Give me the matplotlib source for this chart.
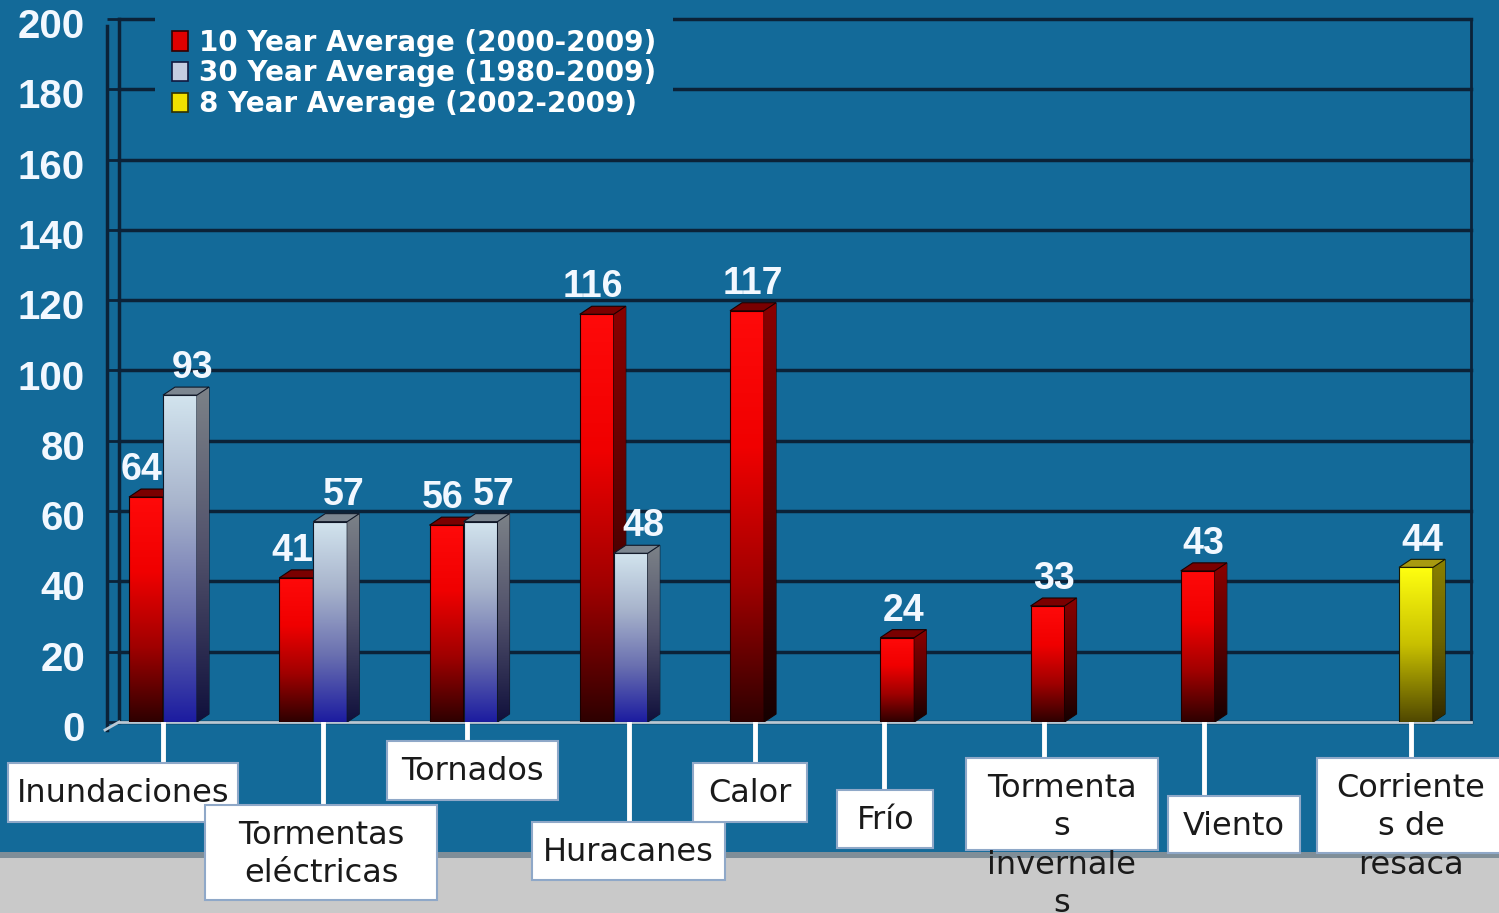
import numpy as np
import matplotlib.pyplot as plt
from matplotlib.colors import LinearSegmentedColormap
from matplotlib.patches import Polygon, Rectangle, Patch
from matplotlib.lines import Line2D
from matplotlib.transforms import ScaledTranslation, blended_transform_factory

# data
categories = ['Inundaciones', 'Tormentas\neléctricas', 'Tornados', 'Huracanes', 'Calor',
              'Frío', 'Tormenta\ns\ninvernale\ns', 'Viento', 'Corriente\ns de\nresaca']
series_names = ['10 Year Average (2000-2009)', '30 Year Average (1980-2009)',
                '8 Year Average (2002-2009)']
avg_10yr = [64, 41, 56, 116, 117, 24, 33, 43, np.nan]
avg_30yr = [93, 57, 57, 48, np.nan, np.nan, np.nan, np.nan, np.nan]
avg_8yr = [np.nan, np.nan, np.nan, np.nan, np.nan, np.nan, np.nan, np.nan, 44]
yticks = list(range(0, 201, 20))

# label boxes (pixels): leader line offset from category centre, box left rel. to line, top, width, height
line_dx = [-17, -7, -14, -2, -26, -47, -38, -28, 29]
boxes = [(-155, 763, 230, 59), (-118, 805, 232, 95), (-80, 741, 171, 59),
         (-97, 822, 193, 58), (-62, 763, 114, 59), (-47, 790, 96, 58),
         (-78, 758, 192, 92), (-36, 796, 132, 57), (-94, 758, 188, 95)]

W, H = 1499, 913
BG = '#136a99'
GRID = '#0b2238'


def fx(px):
    return px / W


def fy(py):
    return 1 - py / H


fig = plt.figure(figsize=(W / 100, H / 100), dpi=100, facecolor=BG)
ax = fig.add_axes([fx(119), fy(722), (1471 - 119) / W, (722 - 19) / H])
ax.set_facecolor(BG)

styles = [
    dict(front=LinearSegmentedColormap.from_list('rf', ['#2e0000', '#a00000', '#f00000', '#ff0a0a']),
         side=LinearSegmentedColormap.from_list('rs', ['#160000', '#5a0000', '#8a0000']),
         top='#7a0000', edge='#1a0000', k=-1, z=3),
    dict(front=LinearSegmentedColormap.from_list('gf', ['#1c1ca0', '#6a70b0', '#a8b4cc', '#d2e4ee']),
         side=LinearSegmentedColormap.from_list('gs', ['#10103c', '#50506a', '#7c8288']),
         top='#7c8690', edge='#101828', k=0, z=4),
    dict(front=LinearSegmentedColormap.from_list('yf', ['#504800', '#c8c000', '#ffff10']),
         side=LinearSegmentedColormap.from_list('ys', ['#302800', '#6a6200', '#8a8000']),
         top='#a89a10', edge='#1a1800', k=1, z=5),
]
legend_colors = [('#e00000', '#300000'), ('#c4cce0', '#101840'), ('#f0e000', '#303000')]

PXX = 150.25  # pixels per category
bw = 34 / PXX
ddx = 12 / PXX
ddy = 8 / 3.515
grad = np.linspace(0, 1, 256)[:, None]
xs = np.arange(len(categories))


def bar3d(x0, h, st, lab_dx):
    x1 = x0 + bw
    z = st['z']
    ax.imshow(grad, extent=(x0, x1, 0, h), origin='lower', cmap=st['front'],
              aspect='auto', zorder=z, interpolation='bilinear')
    ax.add_patch(Rectangle((x0, 0), bw, h, facecolor='none', edgecolor=st['edge'], lw=0.8, zorder=z))
    side = Polygon([(x1, 0), (x1 + ddx, ddy), (x1 + ddx, h + ddy), (x1, h)], closed=True,
                   facecolor='none', edgecolor=st['edge'], lw=0.8, zorder=z)
    ax.add_patch(side)
    im = ax.imshow(grad, extent=(x1, x1 + ddx, 0, h + ddy), origin='lower', cmap=st['side'],
                   aspect='auto', zorder=z, interpolation='bilinear')
    im.set_clip_path(side)
    ax.add_patch(Polygon([(x0, h), (x0 + ddx, h + ddy), (x1 + ddx, h + ddy), (x1, h)], closed=True,
                         facecolor=st['top'], edgecolor=st['edge'], lw=0.8, zorder=z))
    ax.text(x0 + bw / 2 + lab_dx / PXX, h + ddy + 2.5, f'{h:g}', ha='center', va='baseline',
            fontsize=27, fontweight='bold', family='Liberation Sans', color='#f2f8ff', zorder=10)


for j, (vals, st) in enumerate(zip([avg_10yr, avg_30yr, avg_8yr], styles)):
    for i, v in enumerate(vals):
        if np.isnan(v):
            continue
        paired = j == 0 and not np.isnan(avg_30yr[i])
        lab_dx = -4 if paired else (13 if j == 1 else 6)
        bar3d(xs[i] + st['k'] * bw - bw / 2, v, st, lab_dx)

ax.set_xlim(-0.406, 8.592)
ax.set_ylim(0, 200)
ax.set_xticks([])
ax.set_yticks(yticks)
ax.set_yticklabels([])
ax.yaxis.grid(True, color=GRID, lw=2.5)
ax.set_axisbelow(True)
for gl in ax.get_ygridlines():
    gl.set_clip_on(False)
ax.tick_params(axis='y', length=9, width=2, color=GRID, direction='out')
ax.spines['top'].set_visible(False)
ax.spines['left'].set_color(GRID)
ax.spines['left'].set_linewidth(2.5)
ax.spines['right'].set_color(GRID)
ax.spines['right'].set_linewidth(2)
ax.spines['bottom'].set_color('#b8c8d4')
ax.spines['bottom'].set_linewidth(2)

# y labels, a little below the back-wall gridlines
lab_tr = blended_transform_factory(ax.transAxes, ax.transData) + \
    ScaledTranslation(0, -8 / 100, fig.dpi_scale_trans)
for v in yticks:
    ax.text((85 - 119) / 1352, v, str(v), transform=lab_tr, ha='right', va='center',
            fontsize=29, fontweight='bold', family='Liberation Sans', color='#f2f8ff', clip_on=False)

# front edge of the wall and floor
fig.add_artist(Line2D([fx(107), fx(107)], [fy(26), fy(730)], color=GRID, lw=2.5))
fig.add_artist(Line2D([fx(105), fx(119)], [fy(730), fy(722)], color='#b8c8d4', lw=2))

# grey band at the bottom
fig.add_artist(Rectangle((0, 0), 1, fy(852), transform=fig.transFigure,
                         facecolor='#7f8e98', edgecolor='none', zorder=0.5))
fig.add_artist(Rectangle((0, 0), 1, fy(858), transform=fig.transFigure,
                         facecolor='#c9c9c9', edgecolor='none', zorder=0.6))

# category labels with leader lines
for i, (name, ldx, (bl, top, bwid, bh)) in enumerate(zip(categories, line_dx, boxes)):
    cx = ax.transData.transform((xs[i], 0))[0]
    lx = cx + ldx
    fig.add_artist(Line2D([fx(lx), fx(lx)], [fy(724), fy(top)], color='white', lw=3.5, zorder=1))
    left = lx + bl
    fig.add_artist(Rectangle((fx(left), fy(top + bh)), bwid / W, bh / H, transform=fig.transFigure,
                             facecolor='white', edgecolor='#8fa8c8', lw=1.5, zorder=2))
    fig.text(fx(left + bwid / 2), fy(top + 15), name, ha='center', va='top', fontsize=23,
             color='#1a1a1a', linespacing=1.31, multialignment='center', zorder=3)

handles = [Patch(facecolor=f, edgecolor=e, lw=1.2) for f, e in legend_colors]
leg = ax.legend(handles, series_names, loc='upper left', bbox_to_anchor=(fx(155), fy(12)),
                bbox_transform=fig.transFigure, frameon=True, facecolor=BG, edgecolor='none',
                framealpha=1, fancybox=False, borderpad=0.6, borderaxespad=0,
                handlelength=0.6, handleheight=0.7, handletextpad=0.4, labelspacing=0.1,
                prop={'family': 'DejaVu Sans', 'weight': 'bold', 'size': 20}, labelcolor='white')
leg.set_zorder(8)

fig.savefig('out.png', dpi=100, facecolor=BG)
